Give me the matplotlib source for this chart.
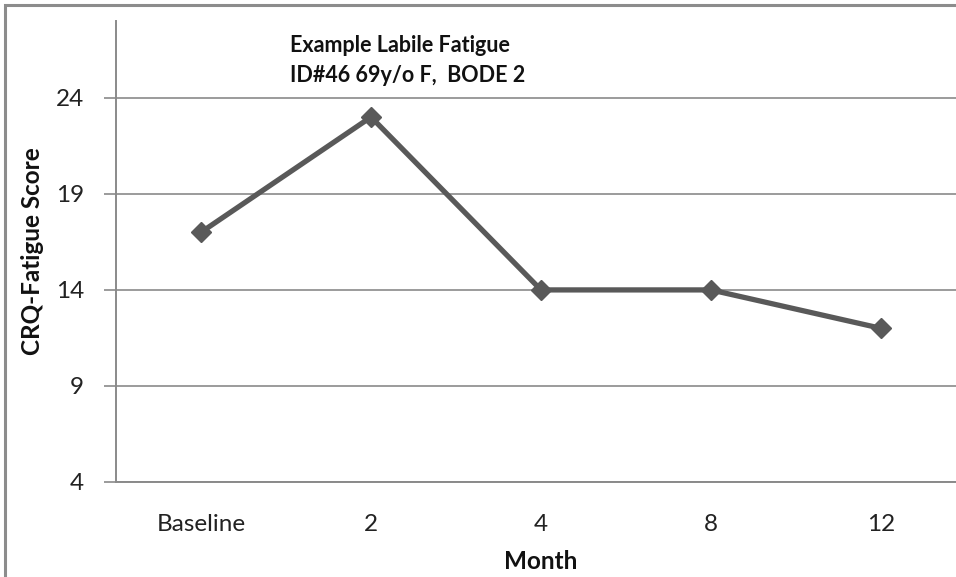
import matplotlib
matplotlib.use("Agg")
import matplotlib.pyplot as plt
from matplotlib.patches import Rectangle

categories = ["Baseline", "2", "4", "8", "12"]
scores = [17, 23, 14, 14, 12]
yticks = [4, 9, 14, 19, 24]
title_lines = ["Example Labile Fatigue", "ID#46 69y/o F,  BODE 2"]

W, H = 956, 577
fig = plt.figure(figsize=(W / 100, H / 100), dpi=100)
plt.rcParams['font.family'] = ['Lato', 'DejaVu Sans']

def fx(px):
    return px / W

def fy(py):
    return 1 - py / H

# outer frame
fig.patches.append(Rectangle((fx(5), fy(600)), fx(1000), fy(5) - fy(600),
                             transform=fig.transFigure, fill=False,
                             edgecolor="#8c8c8c", linewidth=2.2))

left, right, top, bottom = 116, 966, 21, 482
ax = fig.add_axes([fx(left), fy(bottom), fx(right - left), fy(top) - fy(bottom)])

x = list(range(len(categories)))
ax.plot(x, scores, color="#595959", linewidth=3.8, marker="D",
        markersize=10, markerfacecolor="#595959", markeredgecolor="#595959",
        zorder=3)

ax.set_xlim(-0.5, len(categories) - 0.5)
ax.set_ylim(4, 28)
ax.set_yticks(yticks)
ax.set_yticklabels([str(v) for v in yticks])
ax.set_xticks(x)
ax.set_xticklabels(categories)

ax.grid(axis="y", color="#8a8a8a", linewidth=1.2)
ax.set_axisbelow(True)
for s in ["top", "right"]:
    ax.spines[s].set_visible(False)
ax.spines["left"].set_color("#8a8a8a")
ax.spines["left"].set_linewidth(1.4)
ax.spines["bottom"].set_color("#8a8a8a")
ax.spines["bottom"].set_linewidth(1.4)

ax.tick_params(axis="y", length=9, width=1.2, color="#8a8a8a",
               labelsize=17.5, pad=14, labelcolor="#222222")
ax.tick_params(axis="x", length=0, labelsize=17.5, pad=23, labelcolor="#222222")

ax.set_ylabel("CRQ-Fatigue Score", fontsize=17.5, fontweight="bold",
              color="#111111")
ax.yaxis.set_label_coords(-(left - 32) / (right - left), 0.5)
ax.yaxis.label.set_va("center")
ax.set_xlabel("Month", fontsize=17.5, fontweight="bold", labelpad=11,
              color="#111111")

fig.text(fx(290), fy(45), title_lines[0], fontsize=15.5, fontweight="bold",
         va="center", ha="left", color="#111111")
fig.text(fx(290), fy(75), title_lines[1], fontsize=15.5, fontweight="bold",
         va="center", ha="left", color="#111111")

fig.savefig("out.png", dpi=100)
